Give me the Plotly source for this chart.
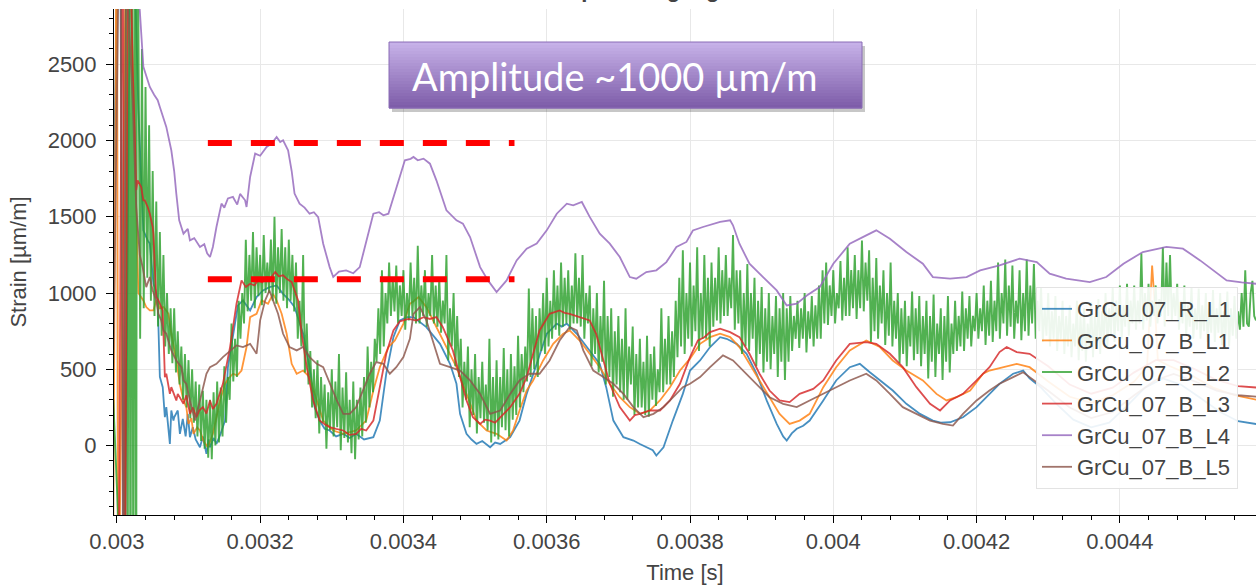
import plotly.graph_objects as go

# ---------------- data (time in microseconds, strain in µm/m) ----------------
x_tick_vals = [0.003, 0.0032, 0.0034, 0.0036, 0.0038, 0.004, 0.0042, 0.0044]
x_tick_text = ["0.003", "0.0032", "0.0034", "0.0036", "0.0038", "0.004", "0.0042", "0.0044"]
y_tick_vals = [0, 500, 1000, 1500, 2000, 2500]

series_names = ["GrCu_07_R_L1", "GrCu_07_B_L1", "GrCu_07_B_L2",
                "GrCu_07_B_L3", "GrCu_07_B_L4", "GrCu_07_B_L5"]
series_colors = ["#1f77b4", "#ff7f0e", "#2ca02c", "#d62728", "#9467bd", "#8c564b"]

R_L1 = [(2990, 200), (3004, 4000), (3010, -1500), (3020, 4000), (3030, 2200), (3037, 1411),
        (3043, 1345), (3046, 1324), (3051, 1061), (3053, 1039), (3057, 952), (3058, 733),
        (3060, 450), (3064, 383), (3067, 186), (3069, 252), (3074, 11), (3076, 230),
        (3079, 164), (3080, 186), (3085, 230), (3088, 77), (3092, 175), (3096, 60),
        (3099, 208), (3102, 55), (3106, 120), (3110, 40), (3116, -11), (3120, 60),
        (3125, -54), (3128, 40), (3130, -11), (3135, 50), (3139, 11), (3145, 80),
        (3151, 164), (3155, 514), (3162, 733), (3169, 919), (3176, 952), (3186, 886),
        (3195, 974), (3204, 1017), (3213, 1039), (3223, 1050), (3232, 995), (3241, 952),
        (3248, 908), (3260, 733), (3269, 514), (3276, 252), (3283, 164), (3290, 110),
        (3297, 99), (3306, 60), (3316, 77), (3325, 50), (3334, 77), (3345, 40), (3358, 55),
        (3367, 164), (3376, 471), (3386, 711), (3395, 820), (3405, 842), (3414, 842),
        (3423, 810), (3432, 777), (3451, 667), (3465, 536), (3474, 405), (3479, 208),
        (3488, 77), (3495, 40), (3502, 11), (3510, 30), (3521, -11), (3528, 20), (3535, 11),
        (3549, 55), (3562, 164), (3572, 339), (3586, 536), (3600, 733), (3614, 799),
        (3621, 780), (3628, 799), (3642, 733), (3656, 646), (3674, 536), (3683, 383),
        (3693, 164), (3707, 55), (3721, 33), (3730, 10), (3739, -11), (3748, -30),
        (3753, -65), (3763, -11), (3776, 164), (3790, 339), (3800, 492), (3814, 558),
        (3828, 646), (3842, 711), (3851, 700), (3865, 667), (3879, 602), (3893, 471),
        (3907, 296), (3921, 142), (3930, 60), (3935, 33), (3942, 80), (3949, 110),
        (3958, 130), (3967, 164), (3986, 296), (4004, 427), (4023, 514), (4037, 536),
        (4051, 481), (4065, 427), (4083, 361), (4102, 274), (4121, 208), (4139, 164),
        (4150, 150), (4163, 153), (4181, 186), (4200, 252), (4218, 339), (4232, 405),
        (4251, 471), (4265, 492), (4274, 440), (4290, 380), (4310, 280), (4335, 170),
        (4360, 120), (4385, 150), (4410, 260), (4435, 380), (4460, 440), (4485, 400),
        (4510, 320), (4540, 220), (4565, 160), (4592, 140)]

B_L1 = [(2994, -1500), (3000, 4000), (3002, -1500), (3014, 4000), (3030, 1000), (3037, 952),
        (3041, 908), (3046, 886), (3051, 886), (3055, 952), (3060, 900), (3065, 908),
        (3069, 886), (3072, 864), (3076, 733), (3083, 558), (3088, 400), (3093, 296),
        (3097, 250), (3100, 142), (3104, 180), (3107, 77), (3112, 120), (3116, 99),
        (3121, 30), (3127, -11), (3134, 77), (3144, 296), (3151, 405), (3156, 440),
        (3162, 471), (3168, 460), (3174, 492), (3181, 646), (3186, 842), (3195, 864),
        (3202, 952), (3211, 930), (3218, 995), (3223, 952), (3230, 864), (3237, 733),
        (3244, 536), (3251, 471), (3260, 492), (3269, 449), (3279, 296), (3288, 164),
        (3302, 99), (3316, 77), (3334, 99), (3348, 164), (3358, 361), (3367, 514),
        (3379, 646), (3388, 689), (3400, 800), (3409, 930), (3415, 950), (3421, 974),
        (3432, 908), (3446, 777), (3460, 646), (3474, 514), (3488, 339), (3502, 164),
        (3516, 99), (3530, 77), (3544, 33), (3553, 99), (3562, 230), (3572, 361),
        (3581, 427), (3595, 558), (3609, 667), (3623, 733), (3632, 755), (3646, 689),
        (3660, 602), (3674, 514), (3688, 405), (3702, 317), (3716, 252), (3730, 208),
        (3744, 230), (3758, 296), (3772, 383), (3786, 492), (3800, 570), (3814, 667),
        (3828, 711), (3842, 733), (3856, 711), (3869, 646), (3883, 536), (3897, 427),
        (3911, 317), (3925, 208), (3939, 142), (3953, 164), (3967, 208), (3986, 383),
        (4004, 514), (4023, 624), (4046, 689), (4065, 646), (4083, 558), (4102, 492),
        (4125, 427), (4144, 339), (4158, 296), (4172, 317), (4191, 361), (4209, 471),
        (4218, 492), (4237, 514), (4256, 536), (4274, 514), (4300, 420), (4330, 320),
        (4360, 280), (4390, 330), (4420, 420), (4438, 520), (4442, 900), (4445, 1180),
        (4449, 900), (4453, 560), (4470, 520), (4500, 460), (4530, 380), (4560, 330),
        (4592, 300)]

# B_L2: early full-height spikes, then samples every 2.5 µs from 3030 µs
B_L2_early = [(2995, 300), (3011, -1500), (3013, 4000), (3015, -1500), (3017, 4000),
              (3019, -1500), (3021, 4000), (3023, -1500), (3025, 4000), (3027, -1500),
              (3028, 3500)]
B_L2_t0 = 3030.0
B_L2_dt = 2.5
B_L2_vals = [
    2850, 700, 2600, 900, 2350, 1100, 2100, 950, 1800, 850, 1600, 780, 1400, 720, 1250, 650, 1000, 600, 900, 540,      # 3030
    900, 480, 750, 400, 650, 300, 600, 250, 560, 180, 500, 150, 420, 60, 400, 30, 360, -20, 300, -80,                   # 3080
    300, -90, 350, 0, 420, 20, 380, 60, 520, 150, 450, 300, 800, 420, 700, 450, 950, 700, 1000, 800,                    # 3130
    1350, 880, 1250, 950, 1400, 900, 1300, 980, 1250, 920, 1380, 1000, 1200, 1000, 1350, 950, 1500, 930, 1300, 1000,    # 3180
    1420, 950, 1300, 900, 1350, 950, 1250, 880, 1200, 700, 950, 650, 1250, 480, 800, 400, 620, 250, 500, 180,           # 3230
    560, 80, 450, 150, 400, -20, 350, 100, 500, 60, 420, 120, 600, -30, 380, 50, 480, 20, 300, -50,                     # 3280
    420, -90, 300, 40, 380, 60, 450, 150, 650, 250, 550, 350, 700, 550, 900, 600, 1150, 650, 1000, 800,                 # 3330
    1200, 850, 1100, 880, 1180, 800, 1050, 850, 1150, 760, 1000, 820, 1200, 850, 1100, 800, 1310, 800, 1050, 850,       # 3380
    1150, 780, 1000, 850, 1250, 800, 1050, 780, 1100, 740, 950, 800, 1250, 560, 900, 650, 1000, 520, 850, 450,          # 3430
    700, 250, 550, 300, 650, 120, 500, 200, 600, 80, 450, 180, 550, 150, 400, 100, 700, 20, 450, 60,                    # 3480
    560, 40, 450, 120, 640, 100, 500, 60, 600, 170, 520, 200, 720, 250, 600, 350, 650, 420, 1030, 450,                  # 3530
    900, 500, 850, 450, 900, 620, 1000, 600, 1100, 650, 950, 700, 1150, 760, 1050, 720, 1200, 780, 1100, 800,           # 3580
    1150, 760, 1050, 800, 1260, 800, 1100, 780, 1250, 700, 1000, 800, 1050, 520, 900, 600, 1000, 480, 850, 550,         # 3630
    1080, 400, 850, 450, 900, 320, 750, 400, 850, 350, 700, 300, 900, 300, 650, 400, 780, 200, 600, 250,                # 3680
    700, 250, 550, 200, 720, 190, 600, 300, 650, 260, 500, 350, 900, 350, 700, 400, 850, 400, 750, 450,                 # 3730
    950, 580, 1100, 650, 1280, 600, 1000, 700, 1200, 650, 1050, 750, 1300, 620, 1000, 700, 1250, 700, 1100, 650,        # 3780
    1200, 780, 1100, 820, 1300, 800, 1150, 850, 1250, 850, 1100, 900, 1380, 760, 1150, 800, 1150, 600, 1000, 650,       # 3830
    1190, 620, 1000, 700, 1100, 520, 950, 600, 1040, 480, 900, 550, 1000, 500, 850, 600, 980, 450, 900, 550,            # 3880
    1000, 430, 900, 550, 980, 620, 850, 700, 950, 640, 900, 700, 1000, 610, 880, 700, 980, 650, 920, 700,               # 3930
    1050, 700, 1150, 800, 1200, 790, 1050, 850, 1150, 800, 1000, 900, 1210, 820, 1100, 850, 1300, 850, 1150, 900,       # 3980
    1250, 830, 1150, 900, 1345, 880, 1200, 950, 1280, 680, 1100, 750, 1230, 700, 1050, 800, 1150, 660, 1000, 720,       # 4030
    1200, 650, 950, 700, 1000, 540, 900, 600, 950, 520, 850, 650, 1010, 560, 900, 600, 980, 520, 850, 600,              # 4080
    950, 440, 850, 550, 990, 450, 800, 600, 900, 430, 850, 550, 980, 480, 800, 600, 950, 620, 850, 650,                 # 4130
    1010, 620, 900, 700, 980, 650, 850, 750, 1000, 700, 900, 750, 1050, 660, 950, 720, 1080, 680, 950, 750,             # 4180
    1200, 700, 1000, 800, 1220, 720, 1050, 780, 1180, 700, 950, 800, 1150, 690, 1000, 750, 1220, 720, 1050, 800,        # 4230
    1190, 700, 950, 750, 1040, 680, 900, 720, 1000, 650, 880, 700, 980, 620, 850, 700, 950, 600, 850, 650,              # 4280
    920, 580, 800, 650, 950, 560, 850, 620, 900, 550, 800, 650, 940, 580, 850, 650, 960, 600, 880, 680,                 # 4330
    1000, 640, 900, 720, 1040, 680, 950, 750, 1050, 700, 920, 780, 1060, 720, 950, 800, 1050, 760, 950, 800,            # 4380
    1260, 760, 1000, 820, 1060, 780, 950, 850, 1050, 800, 960, 850, 1300, 780, 1200, 850, 1250, 820, 1000, 850,         # 4430
    1060, 760, 950, 800, 1050, 720, 920, 780, 1040, 700, 900, 760, 1030, 700, 920, 750, 1000, 680, 900, 740,            # 4480
    1020, 680, 900, 740, 1000, 660, 880, 720, 1010, 650, 900, 720, 980, 700, 880, 760, 1000, 780, 1150, 800,            # 4530
    780, 1000, 1080, 850, 820,                                                                                          # 4580
]

B_L3 = [(2990, 0), (3002, -1500), (3008, 4000), (3011, -1500), (3016, 4000), (3022, 2483),
        (3025, 2045), (3027, 1674), (3029, 1739), (3034, 1695), (3037, 1608), (3039, 1608),
        (3043, 1564), (3046, 1520), (3050, 1433), (3051, 1389), (3053, 1170), (3055, 974),
        (3058, 952), (3062, 908), (3064, 886), (3067, 449), (3069, 471), (3074, 339),
        (3076, 383), (3083, 296), (3085, 339), (3093, 274), (3097, 330), (3102, 208),
        (3106, 250), (3111, 186), (3115, 230), (3120, 252), (3125, 210), (3130, 296),
        (3134, 240), (3139, 274), (3148, 405), (3158, 646), (3167, 930), (3174, 1083),
        (3180, 1040), (3186, 1061), (3192, 1050), (3197, 1083), (3203, 1070), (3209, 1105),
        (3215, 1100), (3221, 1138), (3226, 1110), (3232, 1116), (3238, 1090), (3244, 1072),
        (3253, 952), (3258, 733), (3265, 514), (3274, 296), (3283, 164), (3290, 140),
        (3297, 121), (3306, 110), (3316, 99), (3325, 70), (3334, 77), (3341, 110),
        (3348, 99), (3358, 164), (3367, 383), (3376, 602), (3386, 755), (3395, 815),
        (3407, 831), (3418, 820), (3428, 842), (3437, 830), (3446, 842), (3455, 777),
        (3469, 624), (3479, 449), (3488, 296), (3497, 186), (3507, 142), (3514, 170),
        (3521, 164), (3528, 150), (3535, 186), (3549, 252), (3562, 339), (3572, 449),
        (3581, 602), (3590, 755), (3604, 864), (3618, 886), (3625, 870), (3632, 864),
        (3646, 842), (3660, 820), (3669, 733), (3679, 558), (3688, 405), (3702, 252),
        (3716, 164), (3723, 200), (3730, 208), (3744, 230), (3758, 230), (3772, 296),
        (3786, 405), (3800, 580), (3811, 690), (3820, 710), (3828, 744), (3842, 766),
        (3856, 744), (3869, 711), (3883, 602), (3897, 471), (3911, 361), (3925, 296),
        (3939, 285), (3953, 339), (3972, 372), (3986, 427), (4004, 558), (4023, 667),
        (4046, 678), (4060, 667), (4079, 602), (4097, 514), (4116, 383), (4135, 274),
        (4149, 230), (4163, 296), (4181, 339), (4200, 427), (4218, 514), (4232, 613),
        (4242, 646), (4256, 613), (4274, 602), (4300, 520), (4330, 400), (4360, 340),
        (4390, 380), (4420, 480), (4450, 560), (4475, 560), (4505, 500), (4535, 430),
        (4565, 390), (4592, 380)]

B_L4 = [(2998, 4200), (3032, 2854), (3037, 2483), (3039, 2450), (3046, 2351), (3052, 2300),
        (3057, 2264), (3060, 2220), (3065, 2150), (3069, 2089), (3076, 1936), (3080, 1800),
        (3083, 1650), (3087, 1477), (3093, 1389), (3099, 1420), (3102, 1345), (3108, 1360),
        (3116, 1302), (3122, 1320), (3126, 1260), (3130, 1236), (3134, 1302), (3139, 1433),
        (3146, 1586), (3150, 1560), (3155, 1620), (3162, 1630), (3168, 1580), (3172, 1650),
        (3179, 1608), (3181, 1564), (3186, 1761), (3193, 1914), (3200, 1900), (3209, 1958),
        (3216, 1980), (3223, 2023), (3228, 1990), (3232, 2001), (3239, 1936), (3244, 1800),
        (3248, 1652), (3255, 1586), (3262, 1560), (3269, 1520), (3275, 1530), (3281, 1498),
        (3288, 1323), (3297, 1170), (3302, 1105), (3310, 1140), (3320, 1149), (3330, 1130),
        (3339, 1170), (3344, 1258), (3350, 1380), (3358, 1520), (3366, 1530), (3372, 1510),
        (3379, 1520), (3390, 1695), (3402, 1870), (3410, 1880), (3414, 1892), (3420, 1870),
        (3428, 1881), (3437, 1848), (3446, 1739), (3460, 1542), (3474, 1477), (3483, 1455),
        (3493, 1367), (3507, 1170), (3518, 1083), (3530, 1006), (3544, 1083), (3558, 1214),
        (3572, 1291), (3586, 1324), (3600, 1411), (3614, 1520), (3628, 1586), (3637, 1575),
        (3649, 1597), (3660, 1499), (3674, 1389), (3688, 1324), (3702, 1236), (3716, 1105),
        (3725, 1094), (3739, 1138), (3753, 1149), (3767, 1203), (3781, 1302), (3795, 1335),
        (3804, 1410), (3818, 1433), (3842, 1466), (3856, 1477), (3860, 1444), (3869, 1323),
        (3883, 1192), (3902, 1105), (3921, 1017), (3935, 919), (3949, 930), (3963, 984),
        (3981, 1039), (4000, 1192), (4023, 1323), (4046, 1378), (4060, 1411), (4079, 1356),
        (4102, 1269), (4125, 1192), (4139, 1105), (4163, 1094), (4186, 1105), (4205, 1148),
        (4232, 1181), (4260, 1225), (4284, 1203), (4302, 1127), (4325, 1094), (4358, 1072),
        (4381, 1105), (4405, 1192), (4432, 1269), (4465, 1302), (4488, 1291), (4512, 1214),
        (4539, 1116), (4549, 1083), (4570, 1070), (4592, 1060)]

B_L5 = [(2995, 500), (3005, 4000), (3009, -1500), (3013, 4000), (3016, 2854), (3022, 2264),
        (3027, 1564), (3032, 1250), (3036, 1170), (3041, 1039), (3046, 1105), (3050, 1017),
        (3055, 952), (3058, 864), (3062, 821), (3065, 755), (3069, 733), (3074, 646),
        (3076, 624), (3083, 558), (3090, 514), (3093, 427), (3097, 405), (3102, 296),
        (3109, 164), (3116, 296), (3125, 471), (3130, 514), (3139, 536), (3148, 580),
        (3158, 624), (3167, 657), (3176, 646), (3186, 667), (3195, 602), (3200, 821),
        (3207, 952), (3213, 1017), (3218, 952), (3225, 864), (3232, 733), (3241, 646),
        (3251, 624), (3260, 646), (3269, 580), (3279, 536), (3288, 514), (3297, 405),
        (3307, 296), (3316, 208), (3325, 208), (3334, 252), (3344, 361), (3353, 471),
        (3362, 547), (3372, 536), (3381, 471), (3390, 514), (3400, 580), (3409, 700),
        (3414, 864), (3423, 908), (3432, 821), (3441, 689), (3451, 536), (3465, 514),
        (3479, 492), (3493, 427), (3507, 339), (3521, 208), (3535, 230), (3549, 339),
        (3562, 427), (3576, 471), (3590, 471), (3604, 558), (3618, 689), (3632, 777),
        (3642, 755), (3651, 624), (3665, 492), (3679, 449), (3693, 405), (3707, 339),
        (3721, 252), (3735, 186), (3749, 208), (3763, 252), (3776, 317), (3790, 383),
        (3800, 405), (3814, 449), (3828, 514), (3846, 591), (3860, 558), (3874, 492),
        (3893, 405), (3911, 317), (3930, 274), (3949, 252), (3967, 296), (3986, 339),
        (4004, 383), (4023, 427), (4046, 471), (4060, 427), (4079, 339), (4097, 252),
        (4116, 208), (4135, 164), (4153, 142), (4167, 131), (4181, 208), (4200, 296),
        (4218, 361), (4232, 405), (4251, 449), (4265, 481), (4274, 449), (4300, 360),
        (4330, 250), (4360, 180), (4390, 220), (4420, 330), (4450, 430), (4475, 470),
        (4505, 420), (4535, 360), (4565, 330), (4592, 320)]

# annotation values: dashed amplitude guide lines (strain levels and time span in µs)
amp_levels = [1984, 1090]
amp_span_us = [3127, 3555]
amp_label = "Amplitude ~1000 µm/m"
title_text = "Top strain gauges"

# ---------------- build series ----------------
B_L2 = list(B_L2_early) + [(B_L2_t0 + i * B_L2_dt, v) for i, v in enumerate(B_L2_vals)]
all_series = [R_L1, B_L1, B_L2, B_L3, B_L4, B_L5]
series_widths = [1.8, 1.8, 1.9, 1.8, 1.8, 1.8]

# plot-area pixel geometry
L, R, T, B = 114, 0, 9, 70
W, H = 1256, 585
PW, PH = W - L - R, H - T - B


def px_x(px):
    return (px - L) / PW


def px_y(py):
    return (H - B - py) / PH


FONT = "Liberation Sans, Arial, Helvetica, sans-serif"
GREY = "#444444"
FS = 22

fig = go.Figure()
for name, col, wd, pts in zip(series_names, series_colors, series_widths, all_series):
    fig.add_trace(go.Scatter(
        x=[t * 1e-6 for t, v in pts], y=[v for t, v in pts],
        mode="lines", name=name, legendgroup=name,
        line=dict(color=col, width=wd), opacity=0.82,
        hoverinfo="skip"))

shapes = []
# dashed red guide lines
for lvl in amp_levels:
    shapes.append(dict(type="line", xref="x", yref="y",
                       x0=amp_span_us[0] * 1e-6, x1=amp_span_us[1] * 1e-6, y0=lvl, y1=lvl,
                       line=dict(color="#ff0000", width=6, dash="24px,19px"), layer="above"))

# purple gradient label box
bx0, bx1, by0, by1 = 389, 862, 42, 108
shapes.append(dict(type="rect", xref="paper", yref="paper",
                   x0=px_x(bx0 + 3), x1=px_x(bx1 + 3), y0=px_y(by1 + 4), y1=px_y(by0 + 4),
                   line=dict(width=0), fillcolor="rgba(0,0,0,0.22)", layer="above"))
top_c = (200, 179, 234)
bot_c = (124, 91, 167)
n = 22
for i in range(n):
    f = (i + 0.5) / n
    c = tuple(int(round(top_c[k] + (bot_c[k] - top_c[k]) * f)) for k in range(3))
    ya = by0 + (by1 - by0) * i / n
    yb = by0 + (by1 - by0) * (i + 1) / n + 0.4
    shapes.append(dict(type="rect", xref="paper", yref="paper",
                       x0=px_x(bx0), x1=px_x(bx1), y0=px_y(yb), y1=px_y(ya),
                       line=dict(width=0), fillcolor="rgb(%d,%d,%d)" % c, layer="above"))
shapes.append(dict(type="rect", xref="paper", yref="paper",
                   x0=px_x(bx0), x1=px_x(bx1), y0=px_y(by1), y1=px_y(by0),
                   line=dict(width=1, color="#8a6cb6"), fillcolor="rgba(0,0,0,0)",
                   layer="above"))

annotations = [
    dict(xref="paper", yref="paper", x=px_x(614), y=px_y(76), xanchor="center",
         yanchor="middle", text=amp_label, showarrow=False,
         font=dict(family="Lato, Open Sans, sans-serif", size=38, color="white")),
    dict(xref="paper", yref="paper", x=px_x(650), y=px_y(4), xanchor="center",
         yanchor="bottom", text="<b>" + title_text + "</b>", showarrow=False,
         font=dict(family=FONT, size=FS, color=GREY)),
]

fig.update_layout(
    width=W, height=H, autosize=False,
    margin=dict(l=L, r=R, t=T, b=B, pad=0),
    paper_bgcolor="white", plot_bgcolor="white",
    font=dict(family=FONT, color=GREY),
    shapes=shapes, annotations=annotations,
    showlegend=True,
    legend=dict(x=px_x(1036), y=px_y(287), xanchor="left", yanchor="top",
                bgcolor="rgba(255,255,255,0.9)", bordercolor="#e3e3e3", borderwidth=1,
                font=dict(family=FONT, size=FS, color=GREY),
                tracegroupgap=0, itemwidth=30),
    xaxis=dict(range=[2996e-6, 4590e-6], tickmode="array", tickvals=x_tick_vals,
               ticktext=x_tick_text, showline=True, linecolor="black", linewidth=1,
               ticks="outside", ticklen=7, tickcolor="black", tickwidth=1,
               tickfont=dict(family=FONT, size=FS, color=GREY),
               showgrid=True, gridcolor="#e8e8e8", gridwidth=1, zeroline=False,
               minor=dict(tick0=0.003, dtick=0.00004, ticks="outside", ticklen=4,
                          tickcolor="black", showgrid=False),
               title=dict(text="Time [s]", font=dict(family=FONT, size=FS, color=GREY),
                          standoff=12),
               automargin=False),
    yaxis=dict(range=[-455, 2862], tickmode="array", tickvals=y_tick_vals,
               showline=True, linecolor="black", linewidth=1,
               ticks="outside", ticklen=7, tickcolor="black", tickwidth=1,
               ticklabelstandoff=5,
               tickfont=dict(family=FONT, size=FS, color=GREY),
               showgrid=True, gridcolor="#e8e8e8", gridwidth=1, zeroline=False,
               minor=dict(tick0=0, dtick=100, ticks="outside", ticklen=4,
                          tickcolor="black", showgrid=False),
               title=dict(text="Strain [µm/m]", font=dict(family=FONT, size=FS, color=GREY),
                          standoff=14),
               automargin=False),
)

fig.write_html("out.html", config={"displayModeBar": False})
